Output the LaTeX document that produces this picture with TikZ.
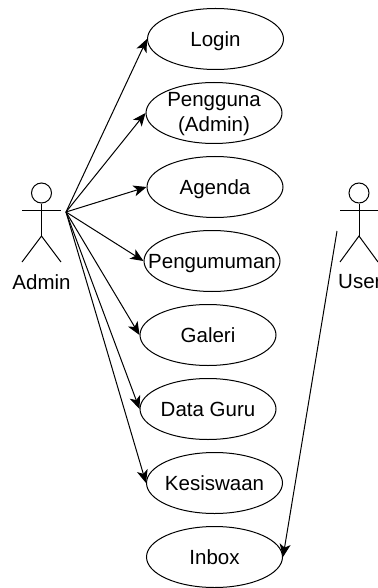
\documentclass[tikz,border=0pt]{standalone}
\usepackage{fontspec}
\setmainfont{Liberation Sans}
\usetikzlibrary{shapes.geometric, arrows.meta, positioning}

\begin{document}
\begin{tikzpicture}[
    x=1pt, y=-1pt,
    node distance=12pt,
    usecase/.style={ellipse, draw, line width=1pt, inner xsep=-30pt, inner ysep=0pt, minimum width=136pt, minimum height=61pt, align=center, text height=15pt, text depth=0pt, font=\fontsize{20.5}{24.5}\selectfont},
    actorlabel/.style={inner sep=0pt, font=\fontsize{20.5}{24.5}\selectfont},
    actorhead/.style={circle, draw, line width=1pt, inner sep=0pt, minimum size=20pt},
    stick/.style={line width=1pt},
    arrow/.style={line width=1pt,-{Stealth[length=13pt,width=11pt,inset=3.5pt]}}
]
\useasboundingbox (0,0) rectangle (377,588);

% use cases
\node (login) [usecase] at (215.5,39) {Login};
\node (pengguna) [usecase, below=of login, xshift=-1.5pt, text height=37pt] {Pengguna\\(Admin)};
\node (agenda) [usecase, below=of pengguna, xshift=1pt] {Agenda};
\node (pengumuman) [usecase, below=of agenda, xshift=-3pt] {Pengumuman};
\node (galeri) [usecase, below=of pengumuman, xshift=-4pt] {Galeri};
\node (dataguru) [usecase, below=of galeri] {Data Guru};
\node (kesiswaan) [usecase, below=of dataguru, xshift=6.5pt] {Kesiswaan};
\node (inbox) [usecase, below=of kesiswaan] {Inbox};

% actor Admin
\node (adminhead) [actorhead] at (41.5,193) {};
\coordinate (adminhip) at (41.5,236);
\coordinate (adminfrom) at (66,212);
\draw [stick] (adminhead.south) -- (adminhip);
\draw [stick] (22,210) -- (61,210);
\draw [stick] (22,262) -- (adminhip) -- (61,262);
\node (admin) [actorlabel] at (41.5,282) {Admin};

% actor User
\node (userhead) [actorhead] at (359,193) {};
\coordinate (userhip) at (359,236);
\coordinate (userfrom) at (337,231);
\draw [stick] (userhead.south) -- (userhip);
\draw [stick] (340,210) -- (378,210);
\draw [stick] (340,262) -- (userhip) -- (378,262);
\node (user) [actorlabel, anchor=west] at (338,282) {User};

% connectors
\draw [arrow] (adminfrom) -- (login.west);
\draw [arrow] (adminfrom) -- (pengguna.west);
\draw [arrow] (adminfrom) -- (agenda.west);
\draw [arrow] (adminfrom) -- (pengumuman.west);
\draw [arrow] (adminfrom) -- (galeri.west);
\draw [arrow] (adminfrom) -- (dataguru.west);
\draw [arrow] (adminfrom) -- (kesiswaan.west);
\draw [arrow] (userfrom) -- (inbox.east);

\end{tikzpicture}
\end{document}
